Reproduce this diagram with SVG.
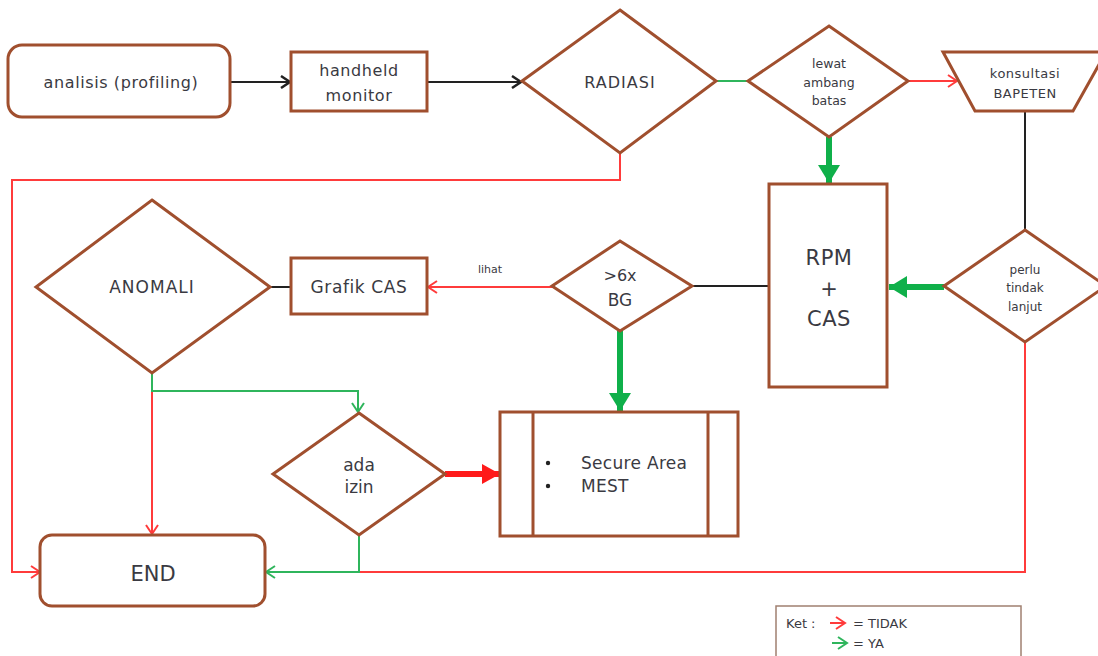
<svg xmlns="http://www.w3.org/2000/svg" width="1098" height="656" viewBox="0 0 1098 656">
<style>
.n{fill:#fff;stroke:#a04f2e;stroke-width:3}
.t{font-family:"DejaVu Sans","Liberation Sans",sans-serif;fill:#3a3a42;text-anchor:middle}
.s{text-anchor:start}
.c{fill:none;stroke-width:2}
.k{stroke:#222}
.r{stroke:#ff3b3b}
.g{stroke:#2fb55c}
.gt{stroke:#0fb04a;stroke-width:6;fill:none}
.rt{stroke:#ff1a1a;stroke-width:6;fill:none}
</style>
<defs>
<marker id="ak" markerUnits="userSpaceOnUse" markerWidth="14" markerHeight="14" refX="11" refY="7" orient="auto"><path d="M2,1 L11,7 L2,13" fill="none" stroke="#222" stroke-width="2.5"/></marker>
<marker id="ar" markerUnits="userSpaceOnUse" markerWidth="14" markerHeight="14" refX="11" refY="7" orient="auto"><path d="M2,1 L11,7 L2,13" fill="none" stroke="#ff3b3b" stroke-width="2"/></marker>
<marker id="ag" markerUnits="userSpaceOnUse" markerWidth="14" markerHeight="14" refX="11" refY="7" orient="auto"><path d="M2,1 L11,7 L2,13" fill="none" stroke="#2fb55c" stroke-width="2"/></marker>
<marker id="agt" markerUnits="userSpaceOnUse" markerWidth="22" markerHeight="22" refX="18" refY="11" orient="auto"><path d="M0,0 L18,11 L0,22 Z" fill="#0fb04a"/></marker>
<marker id="art" markerUnits="userSpaceOnUse" markerWidth="22" markerHeight="22" refX="18" refY="11" orient="auto"><path d="M0,1 L18,11 L0,21 Z" fill="#ff1a1a"/></marker>
</defs>
<rect width="1098" height="656" fill="#fff"/>
<g id="connectors">
<path class="c k" d="M230,82 H290" marker-end="url(#ak)"/>
<path class="c k" d="M427,82 H521" marker-end="url(#ak)"/>
<path class="c g" d="M716,81 H748"/>
<path class="c r" d="M908,81 H957" marker-end="url(#ar)"/>
<path class="gt" d="M829,137 V183" marker-end="url(#agt)"/>
<path class="c k" d="M1025,111 V230" stroke-width="3"/>
<path class="gt" d="M944,287 H889" marker-end="url(#agt)"/>
<path class="c k" d="M692,286 H769" stroke-width="3"/>
<path class="c r" d="M552,287 H428" marker-end="url(#ar)"/>
<path class="c k" d="M270,287 H291"/>
<path class="c r" d="M620,153 V180 H12 V572 H40" marker-end="url(#ar)"/>
<path class="c r" d="M152,391 V534" marker-end="url(#ar)"/>
<path class="c g" d="M152,373 V391 H358 V412" marker-end="url(#ag)"/>
<path class="rt" d="M445,474 H500" marker-end="url(#art)"/>
<path class="gt" d="M620,331 V411" marker-end="url(#agt)"/>
<path class="c r" d="M1025,342 V572 H359"/>
<path class="c g" d="M359,535 V572 H266" marker-end="url(#ag)"/>
<text class="t" x="490" y="273" font-size="11">lihat</text>
</g>
<g id="analisis">
<rect class="n" x="8" y="45" width="222" height="72" rx="14"/>
<text class="t" x="121" y="88" font-size="16" letter-spacing="0.6">analisis (profiling)</text>
</g>
<g id="handheld">
<rect class="n" x="291" y="52" width="136" height="59"/>
<text class="t" x="359" y="76" font-size="16" letter-spacing="0.6">handheld</text>
<text class="t" x="359" y="101" font-size="16" letter-spacing="0.6">monitor</text>
</g>
<g id="radiasi">
<path class="n" d="M620,10 L716,81 L620,153 L522,81 Z"/>
<text class="t" x="620" y="88" font-size="16" letter-spacing="1">RADIASI</text>
</g>
<g id="lewat">
<path class="n" d="M829,26 L908,81 L829,137 L748,81 Z"/>
<text class="t" x="829" y="68" font-size="12.5">lewat</text>
<text class="t" x="829" y="87" font-size="12.5">ambang</text>
<text class="t" x="829" y="105" font-size="12.5">batas</text>
</g>
<g id="konsultasi">
<path class="n" d="M943,52 L1106,52 L1073,111 L975,111 Z"/>
<text class="t" x="1025" y="78" font-size="13" letter-spacing="0.5">konsultasi</text>
<text class="t" x="1025" y="98" font-size="13" letter-spacing="0.5">BAPETEN</text>
</g>
<g id="rpm">
<rect class="n" x="769" y="184" width="118" height="203"/>
<text class="t" x="829" y="265" font-size="21" letter-spacing="0.5">RPM</text>
<text class="t" x="829" y="296" font-size="21">+</text>
<text class="t" x="829" y="326" font-size="21" letter-spacing="0.5">CAS</text>
</g>
<g id="perlu">
<path class="n" d="M1025,230 L1106,286 L1025,342 L944,286 Z"/>
<text class="t" x="1025" y="274" font-size="12">perlu</text>
<text class="t" x="1025" y="292" font-size="12">tindak</text>
<text class="t" x="1025" y="311" font-size="12">lanjut</text>
</g>
<g id="bg">
<path class="n" d="M620,241 L692,286 L620,331 L552,286 Z"/>
<text class="t" x="620" y="281" font-size="16">&gt;6x</text>
<text class="t" x="620" y="306" font-size="17">BG</text>
</g>
<g id="grafik">
<rect class="n" x="291" y="258" width="136" height="56"/>
<text class="t" x="359" y="293" font-size="17" letter-spacing="0.6">Grafik CAS</text>
</g>
<g id="anomali">
<path class="n" d="M152,200 L270,287 L152,373 L36,287 Z"/>
<text class="t" x="152" y="293" font-size="17" letter-spacing="1">ANOMALI</text>
</g>
<g id="izin">
<path class="n" d="M359,413 L445,474 L359,535 L273,474 Z"/>
<text class="t" x="359" y="471" font-size="17">ada</text>
<text class="t" x="359" y="493" font-size="17">izin</text>
</g>
<g id="secure">
<rect class="n" x="500" y="412" width="238" height="124"/>
<line class="n" x1="533" y1="412" x2="533" y2="536"/>
<line class="n" x1="708" y1="412" x2="708" y2="536"/>
<circle cx="548" cy="463" r="2.2" fill="#222"/>
<circle cx="548" cy="486" r="2.2" fill="#222"/>
<text class="t s" x="581" y="469" font-size="17" letter-spacing="0.3">Secure Area</text>
<text class="t s" x="581" y="492" font-size="17" letter-spacing="0.3">MEST</text>
</g>
<g id="end">
<rect class="n" x="40" y="535" width="225" height="71" rx="12"/>
<text class="t" x="153" y="581" font-size="21">END</text>
</g>
<g id="legend">
<rect x="776" y="606" width="245" height="60" fill="#fff" stroke="#a08070" stroke-width="1.5"/>
<text class="t s" x="786" y="628" font-size="13">Ket :</text>
<path class="c r" d="M830,623 H845" marker-end="url(#ar)"/>
<text class="t s" x="853" y="628" font-size="13">= TIDAK</text>
<path class="c g" d="M832,643 H847" marker-end="url(#ag)"/>
<text class="t s" x="853" y="648" font-size="13">= YA</text>
</g>
</svg>
